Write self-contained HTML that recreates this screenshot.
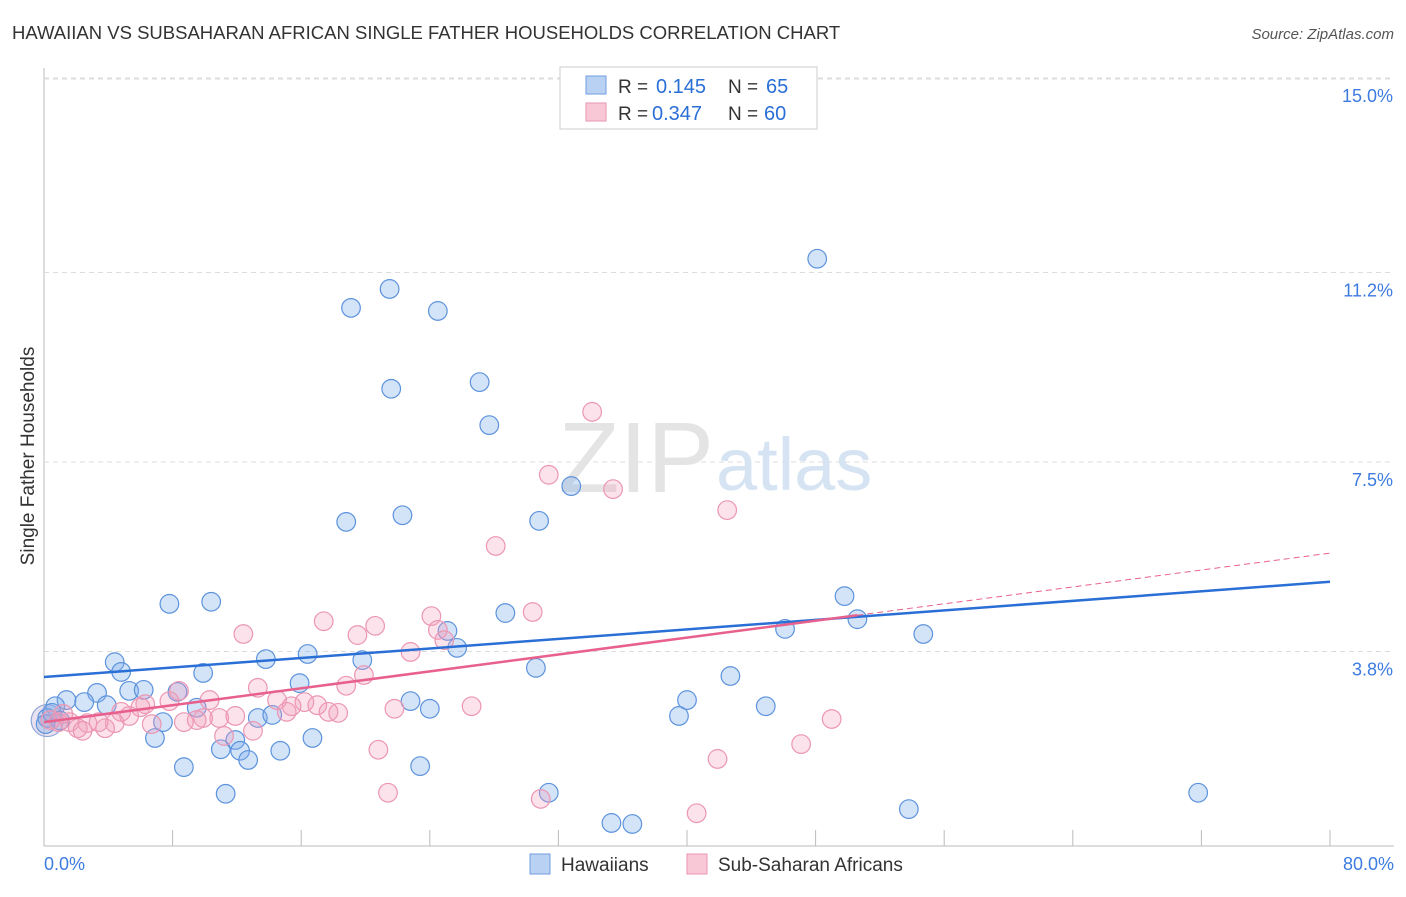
<!DOCTYPE html>
<html><head><meta charset="utf-8"><style>
body{margin:0;background:#fff;font-family:"Liberation Sans",sans-serif}
svg text{font-family:"Liberation Sans",sans-serif}
</style></head><body>
<svg width="1406" height="892" xmlns="http://www.w3.org/2000/svg">
<text x="12" y="39" font-size="18.5" fill="#333">HAWAIIAN VS SUBSAHARAN AFRICAN SINGLE FATHER HOUSEHOLDS CORRELATION CHART</text>
<text x="1394" y="39" font-size="15" fill="#555" font-style="italic" text-anchor="end">Source: ZipAtlas.com</text>
<g id="grid"></g>
<text x="714" y="492" font-size="100" fill="#e4e4e4" text-anchor="end" font-family="Liberation Serif">ZIP</text>
<text x="716" y="490" font-size="74" fill="#d6e3f3">atlas</text>
<g id="pts"></g>
<g id="lines"></g>
<text x="34" y="456" font-size="19" fill="#333" text-anchor="middle" transform="rotate(-90 34 456)">Single Father Households</text>
<g>
<rect x="560" y="67" width="257" height="62" fill="#fff" stroke="#ccc"/>
<rect x="586" y="76" width="20" height="18" fill="#b9d2f3" stroke="#6e9ee0"/>
<rect x="586" y="103" width="20" height="18" fill="#f9c8d7" stroke="#ea93b0"/>
<text x="618" y="93" font-size="19" fill="#333">R =</text>
<text x="656" y="93" font-size="20" fill="#2a6fd6">0.145</text>
<text x="728" y="93" font-size="19" fill="#333">N =</text>
<text x="766" y="93" font-size="20" fill="#2a6fd6">65</text>
<text x="618" y="120" font-size="19" fill="#333">R =</text>
<text x="652" y="120" font-size="20" fill="#2a6fd6">0.347</text>
<text x="728" y="120" font-size="19" fill="#333">N =</text>
<text x="764" y="120" font-size="20" fill="#2a6fd6">60</text>
</g>
<g>
<rect x="530" y="854" width="20" height="20" fill="#b9d2f3" stroke="#6e9ee0"/>
<text x="561" y="871" font-size="19" fill="#333">Hawaiians</text>
<rect x="687" y="854" width="20" height="20" fill="#f9c8d7" stroke="#ea93b0"/>
<text x="718" y="871" font-size="19" fill="#333">Sub-Saharan Africans</text>
</g>
</svg>
<script>
const yTicks=[3.8,7.5,11.2,15.0];
const yTickLabels=["3.8%","7.5%","11.2%","15.0%"];
const xTickLabels=["0.0%","80.0%"];
const blueX=[48.1,21.5,19.1,24.5,27.1,21.6,27.7,32.8,22.3,18.8,30.8,28.7,7.8,10.4,49.8,50.6,54.7,46.1,25.1,25.7,16.4,19.8,13.8,4.4,4.8,9.9,30.6,42.7,15.9,5.3,6.2,3.3,1.4,2.5,8.3,22.8,40.0,3.9,9.5,44.9,24.0,0.7,0.2,13.3,14.2,39.5,7.4,6.9,16.7,11.9,11.0,12.2,14.7,12.7,8.7,23.4,11.3,31.4,71.8,53.8,35.3,36.6,0.1,0.5,1.0];
const blueY=[11.47,10.88,10.51,10.45,9.06,8.93,8.22,7.03,6.46,6.33,6.35,4.55,4.73,4.77,4.88,4.43,4.14,4.24,4.20,3.87,3.75,3.63,3.65,3.59,3.40,3.38,3.48,3.32,3.18,3.03,3.05,2.99,2.85,2.81,3.01,2.83,2.85,2.75,2.70,2.73,2.68,2.73,2.50,2.50,2.56,2.54,2.42,2.11,2.11,2.07,1.89,1.86,1.86,1.68,1.54,1.56,1.02,1.04,1.04,0.72,0.45,0.43,2.38,2.60,2.45];
const pinkX=[34.1,31.4,35.4,42.5,28.1,24.1,30.4,17.4,20.6,12.4,19.5,24.5,24.9,22.8,19.9,18.8,13.3,8.4,10.3,7.8,14.5,16.2,15.4,17.0,15.1,17.7,18.3,6.3,6.0,4.8,5.3,11.9,10.9,9.9,9.5,8.7,21.8,26.6,49.0,6.7,4.4,3.4,2.7,1.6,0.9,2.1,3.8,2.4,11.2,13.0,47.1,20.8,41.9,21.4,30.9,40.6,0.4,1.2];
const pinkY=[8.48,7.25,6.97,6.56,5.86,4.49,4.57,4.39,4.30,4.14,4.12,4.22,4.02,3.79,3.34,3.13,3.09,3.03,2.85,2.83,2.85,2.81,2.73,2.75,2.62,2.62,2.60,2.77,2.71,2.62,2.54,2.54,2.50,2.50,2.46,2.42,2.68,2.73,2.48,2.38,2.40,2.42,2.40,2.42,2.42,2.30,2.30,2.25,2.15,2.25,1.99,1.88,1.70,1.04,0.92,0.64,2.46,2.58];
const blueLine=[3.30,5.16];
const pinkLine=[2.42,5.72];
const pinkSolidEnd=50.6;
const X=v=>44+v*16.075, Y=v=>846-v*51.2;
const NS="http://www.w3.org/2000/svg";
function mk(p,t,a){const e=document.createElementNS(NS,t);for(const k in a)e.setAttribute(k,a[k]);p.appendChild(e);return e;}
const grid=document.getElementById('grid');
mk(grid,'line',{x1:44,y1:68,x2:44,y2:846,stroke:'#bbb'});
mk(grid,'line',{x1:44,y1:846,x2:1394,y2:846,stroke:'#bbb'});
mk(grid,'line',{x1:44,y1:79,x2:1394,y2:79,stroke:'#ddd','stroke-dasharray':'5,4'});
yTicks.forEach((t,i)=>{
 const g=mk(grid,'line',{x1:44,y1:Y(t),x2:1394,y2:Y(t),stroke:'#ddd','stroke-dasharray':'5,4'});
 
 
 const tx=mk(grid,'text',{x:1393,y:Y(t)+24,'font-size':18,fill:'#3d7be0','text-anchor':'end'});
 tx.textContent=yTickLabels[i];
 
 
});
for(let i=1;i<=10;i++){const l=mk(grid,'line',{x1:X(i*8),y1:830,x2:X(i*8),y2:846,stroke:'#bbb'});
 
 }
[[0,'start',44],[80,'end',1394]].forEach((d,i)=>{const t=mk(grid,'text',{x:d[2],y:870,'font-size':18,fill:'#3d7be0','text-anchor':d[1]});t.textContent=xTickLabels[i];
 
 });
const pts=document.getElementById('pts');
const big=mk(pts,'circle',{cx:X(0.2),cy:Y(2.45),r:16,fill:'rgba(190,170,210,0.35)',stroke:'#8fa6dc','stroke-width':1.2});


blueX.forEach((x,i)=>{const c=mk(pts,'circle',{cx:X(x),cy:Y(blueY[i]),r:9.3,fill:'rgba(130,175,235,0.35)',stroke:'#5d93dc','stroke-width':1.2});
 
 });
pinkX.forEach((x,i)=>{const c=mk(pts,'circle',{cx:X(x),cy:Y(pinkY[i]),r:9.3,fill:'rgba(242,160,188,0.3)',stroke:'#ec96b3','stroke-width':1.2});
 
 });
const lines=document.getElementById('lines');
const pl=v=>pinkLine[0]+(pinkLine[1]-pinkLine[0])*v/80;
let a=mk(lines,'line',{x1:X(0),y1:Y(blueLine[0]),x2:X(80),y2:Y(blueLine[1]),stroke:'#2a6fd6','stroke-width':2.5});


let b=mk(lines,'line',{x1:X(0),y1:Y(pl(0)),x2:X(pinkSolidEnd),y2:Y(pl(pinkSolidEnd)),stroke:'#e8608c','stroke-width':2.5});


let c=mk(lines,'line',{x1:X(pinkSolidEnd),y1:Y(pl(pinkSolidEnd)),x2:X(80),y2:Y(pl(80)),stroke:'#e8608c','stroke-width':1,'stroke-dasharray':'6,4'});


</script>
</body></html>
